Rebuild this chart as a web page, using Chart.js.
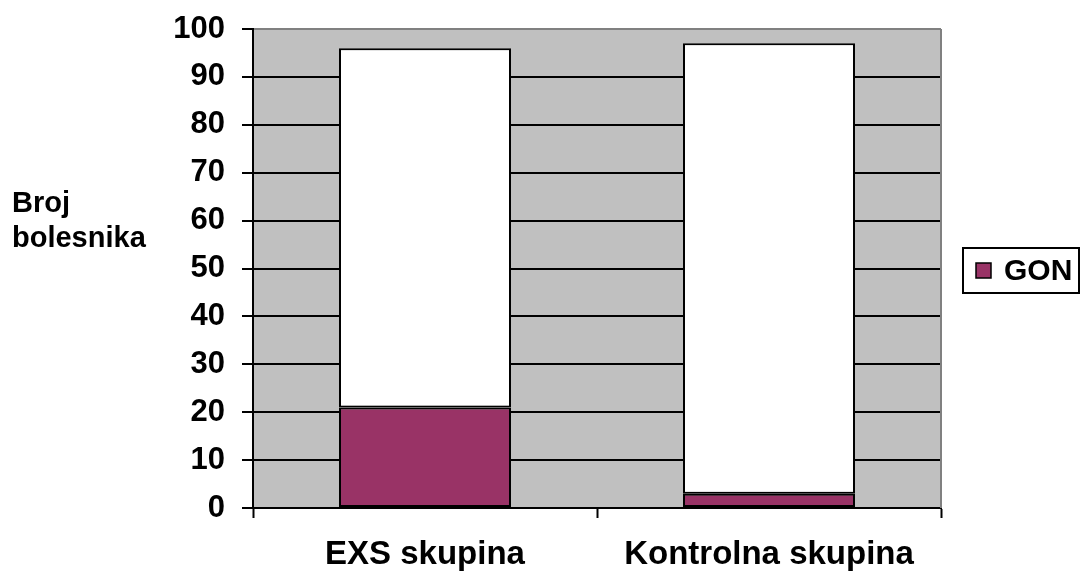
<!DOCTYPE html>
<html>
<head>
<meta charset="utf-8">
<script src="https://cdn.jsdelivr.net/npm/chart.js@4"></script>
<style>
  html, body { margin: 0; padding: 0; background: #fff; }
  #wrap { width: 1081px; height: 576px; }
</style>
</head>
<body>
<div id="wrap"><canvas id="myChart" width="1081" height="576"></canvas></div>
<script>
const categories = ['EXS skupina', 'Kontrolna skupina'];
const gonValues = [21, 3];
const restValues = [75, 94];
const yTitleLines = ['Broj', 'bolesnika'];

const FONT = '"Liberation Sans", Arial, sans-serif';

const plotBackground = {
    id: 'plotBackground',
    beforeDraw(chart) {
        const a = chart.chartArea;
        const ctx = chart.ctx;
        ctx.save();
        ctx.fillStyle = '#c0c0c0';
        ctx.fillRect(a.left, a.top, a.right - a.left, a.bottom - a.top);
        ctx.restore();
    },
    afterDraw(chart) {
        const a = chart.chartArea;
        const ctx = chart.ctx;
        ctx.save();
        // right border of plot area
        ctx.strokeStyle = '#808080';
        ctx.lineWidth = 2;
        ctx.beginPath();
        ctx.moveTo(a.right, a.top);
        ctx.lineTo(a.right, a.bottom);
        ctx.stroke();
        // y axis title
        ctx.fillStyle = '#000';
        ctx.font = 'bold 29px ' + FONT;
        ctx.textAlign = 'left';
        ctx.textBaseline = 'alphabetic';
        ctx.fillText(yTitleLines[0], 12, 212);
        ctx.fillText(yTitleLines[1], 12, 247);
        // legend (only GON)
        const ds = chart.data.datasets[0];
        ctx.fillStyle = '#fff';
        ctx.fillRect(963, 248, 116, 45);
        ctx.strokeStyle = '#000';
        ctx.lineWidth = 2;
        ctx.strokeRect(963, 248, 116, 45);
        ctx.fillStyle = ds.backgroundColor;
        ctx.fillRect(976, 263, 15, 15);
        ctx.lineWidth = 1.5;
        ctx.strokeRect(976, 263, 15, 15);
        ctx.fillStyle = '#000';
        ctx.font = 'bold 30px ' + FONT;
        ctx.textBaseline = 'middle';
        ctx.fillText(ds.label, 1004, 272);
        ctx.restore();
    }
};

const data = {
    labels: categories,
    datasets: [{
        label: 'GON',
        data: gonValues,
        backgroundColor: '#993366',
        borderColor: '#000',
        borderWidth: 2,
        borderSkipped: false
    }, {
        label: '',
        data: restValues,
        backgroundColor: '#ffffff',
        borderColor: '#000',
        borderWidth: 2,
        borderSkipped: false
    }]
};

const config = {
    type: 'bar',
    data: data,
    options: {
        responsive: false,
        animation: false,
        layout: {
            padding: { top: 29, right: 140, left: 0, bottom: 0 }
        },
        datasets: {
            bar: { barPercentage: 0.5, categoryPercentage: 1 }
        },
        plugins: {
            legend: { display: false },
            tooltip: { enabled: false }
        },
        scales: {
            x: {
                stacked: true,
                afterFit(scale) {
                    scale.height = 68;
                    scale.paddingLeft = 0;
                    scale.paddingRight = 0;
                },
                grid: {
                    drawOnChartArea: false,
                    drawTicks: true,
                    tickLength: 10,
                    tickColor: '#000',
                    tickWidth: 2,
                    offset: true
                },
                border: { color: '#000', width: 2 },
                ticks: {
                    color: '#000',
                    padding: 17,
                    maxRotation: 0,
                    font: { family: FONT, size: 33, weight: 'bold' }
                }
            },
            y: {
                stacked: true,
                min: 0,
                max: 100,
                afterFit(scale) {
                    scale.width = 253;
                    scale.paddingTop = 0;
                    scale.paddingBottom = 0;
                },
                grid: {
                    color: (c) => (c.tick && c.tick.value === 100) ? '#808080' : '#000',
                    lineWidth: 2,
                    tickLength: 11,
                    tickColor: '#000',
                    tickWidth: 2
                },
                border: { color: '#000', width: 2 },
                ticks: {
                    stepSize: 10,
                    color: '#000',
                    padding: 17,
                    font: { family: FONT, size: 31, weight: 'bold' }
                }
            }
        }
    },
    plugins: [plotBackground]
};

var myChart = new Chart(document.getElementById('myChart'), config);
</script>
</body>
</html>
